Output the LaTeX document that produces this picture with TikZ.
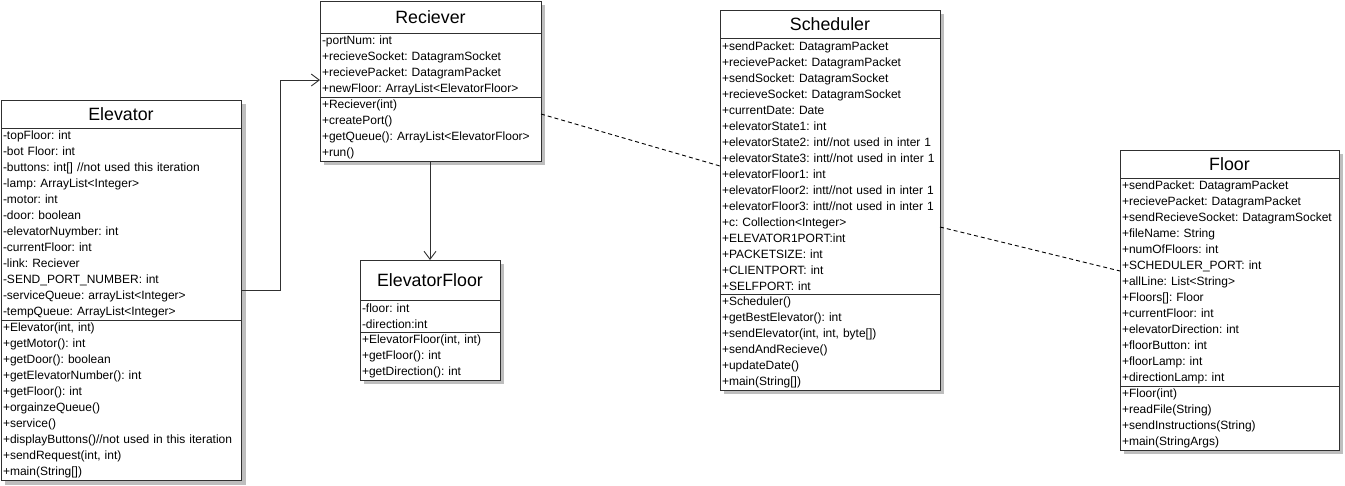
\documentclass[tikz,border=0pt]{standalone}
\usepackage{fontspec}
\setmainfont{Liberation Sans}
\frenchspacing
\usetikzlibrary{arrows.meta, calc, backgrounds}
\definecolor{linegray}{HTML}{303030}
\definecolor{shadowgray}{HTML}{BEBEBE}
\tikzset{
    class-title/.style={
        draw=linegray, fill=white, anchor=north west, inner sep=0pt, outer sep=0pt,
        font=\fontsize{17.8}{20}\selectfont
    },
    class-part/.style={
        draw=linegray, fill=white, anchor=north west, inner xsep=2pt, inner ysep=0pt,
        outer sep=0pt, align=left, font=\fontsize{12}{16}\selectfont
    },
    class-shadow/.style={fill=shadowgray, draw=none},
    assoc/.style={draw=linegray, -{Straight Barb[length=8pt, width=12pt]}},
    depend/.style={draw=black, dash pattern=on 4pt off 3pt},
}

\begin{document}
\begin{tikzpicture}[x=1pt, y=-1pt, line width=0.9pt]

        \useasboundingbox (0,0) rectangle (1345,485);

        % SHADOWS
        \path[class-shadow] (5,104)    rectangle (246,485);
        \path[class-shadow] (324,5)    rectangle (545,165);
        \path[class-shadow] (364,264)  rectangle (504,384);
        \path[class-shadow] (724,14)   rectangle (944,394);
        \path[class-shadow] (1124,154) rectangle (1343,454);

        % ELEVATOR
        \node[class-title, minimum width=240pt, minimum height=28pt] (ELEVATOR) at (1,100) {Elevator};
        \node[class-part, text width=236pt, minimum height=192pt] (ELEVATORATTR) at (ELEVATOR.south west)
            {-topFloor: int\\-bot Floor: int\\-buttons: int[] //not used this iteration\\-lamp: ArrayList<Integer>\\
             -motor: int\\-door: boolean\\-elevatorNuymber: int\\-currentFloor: int\\-link: Reciever\\
             -SEND\_PORT\_NUMBER: int\\-serviceQueue: arrayList<Integer>\\-tempQueue: ArrayList<Integer>};
        \node[class-part, text width=236pt, minimum height=160pt] (ELEVATORMETH) at (ELEVATORATTR.south west)
            {+Elevator(int, int)\\+getMotor(): int\\+getDoor(): boolean\\+getElevatorNumber(): int\\
             +getFloor(): int\\+orgainzeQueue()\\+service()\\+displayButtons()//not used in this iteration\\
             +sendRequest(int, int)\\+main(String[])};

        % RECIEVER
        \node[class-title, minimum width=221pt, minimum height=32pt] (RECIEVER) at (320,1) {Reciever};
        \node[class-part, text width=217pt, minimum height=64pt] (RECIEVERATTR) at (RECIEVER.south west)
            {-portNum: int\\+recieveSocket: DatagramSocket\\+recievePacket: DatagramPacket\\
             +newFloor: ArrayList<ElevatorFloor>};
        \node[class-part, text width=217pt, minimum height=64pt] (RECIEVERMETH) at (RECIEVERATTR.south west)
            {+Reciever(int)\\+createPort()\\+getQueue(): ArrayList<ElevatorFloor>\\+run()};

        % ELEVATOR FLOOR
        \node[class-title, minimum width=140pt, minimum height=40pt] (ELEVFLOOR) at (360,260) {ElevatorFloor};
        \node[class-part, text width=136pt, minimum height=32pt] (ELEVFLOORATTR) at (ELEVFLOOR.south west)
            {-floor: int\\-direction:int};
        \node[class-part, text width=136pt, minimum height=48pt] (ELEVFLOORMETH) at (ELEVFLOORATTR.south west)
            {+ElevatorFloor(int, int)\\+getFloor(): int\\+getDirection(): int};

        % SCHEDULER
        \node[class-title, minimum width=220pt, minimum height=28pt] (SCHEDULER) at (720,10) {Scheduler};
        \node[class-part, text width=216pt, minimum height=256pt] (SCHEDULERATTR) at (SCHEDULER.south west)
            {+sendPacket: DatagramPacket\\+recievePacket: DatagramPacket\\+sendSocket: DatagramSocket\\
             +recieveSocket: DatagramSocket\\+currentDate: Date\\+elevatorState1: int\\
             +elevatorState2: int//not used in inter 1\\+elevatorState3: intt//not used in inter 1\\
             +elevatorFloor1: int\\+elevatorFloor2: intt//not used in inter 1\\
             +elevatorFloor3: intt//not used in inter 1\\+c: Collection<Integer>\\+ELEVATOR1PORT:int\\
             +PACKETSIZE: int\\+CLIENTPORT: int\\+SELFPORT: int};
        \node[class-part, text width=216pt, minimum height=96pt] (SCHEDULERMETH) at (SCHEDULERATTR.south west)
            {+Scheduler()\\+getBestElevator(): int\\+sendElevator(int, int, byte[])\\+sendAndRecieve()\\
             +updateDate()\\+main(String[])};

        % FLOOR
        \node[class-title, minimum width=219pt, minimum height=28pt] (FLOOR) at (1120,150) {Floor};
        \node[class-part, text width=215pt, minimum height=208pt] (FLOORATTR) at (FLOOR.south west)
            {+sendPacket: DatagramPacket\\+recievePacket: DatagramPacket\\
             +sendRecieveSocket: DatagramSocket\\+fileName: String\\+numOfFloors: int\\
             +SCHEDULER\_PORT: int\\+allLine: List<String>\\+Floors[]: Floor\\+currentFloor: int\\
             +elevatorDirection: int\\+floorButton: int\\+floorLamp: int\\+directionLamp: int};
        \node[class-part, text width=215pt, minimum height=64pt] (FLOORMETH) at (FLOORATTR.south west)
            {+Floor(int)\\+readFile(String)\\+sendInstructions(String)\\+main(StringArgs)};

        % CONNECTOR POINTS
        \coordinate (ELEVOUT)   at ($(ELEVATORATTR.south east)+(0,-30)$);
        \coordinate (RECIN)     at ($(RECIEVERATTR.south west)+(0,-17)$);
        \coordinate (RECOUT)    at ($(RECIEVERMETH.north east)+(0,17)$);
        \coordinate (SCHEDOUT)  at ($(SCHEDULERATTR.north east)+(0,189)$);
        \coordinate (FLOORIN)   at ($(FLOORATTR.north west)+(0,93)$);

        % ASSOCIATIONS
        \draw[assoc] (ELEVOUT) -- ++(39,0) |- (RECIN);
        \draw[assoc] (ELEVFLOOR.north |- RECIEVERMETH.south) -- (ELEVFLOOR.north);

        % DEPENDENCIES
        \draw[depend] (RECOUT) -- (SCHEDULERATTR.west);
        \draw[depend] (SCHEDOUT) -- (FLOORIN);

    \end{tikzpicture}
\end{document}
